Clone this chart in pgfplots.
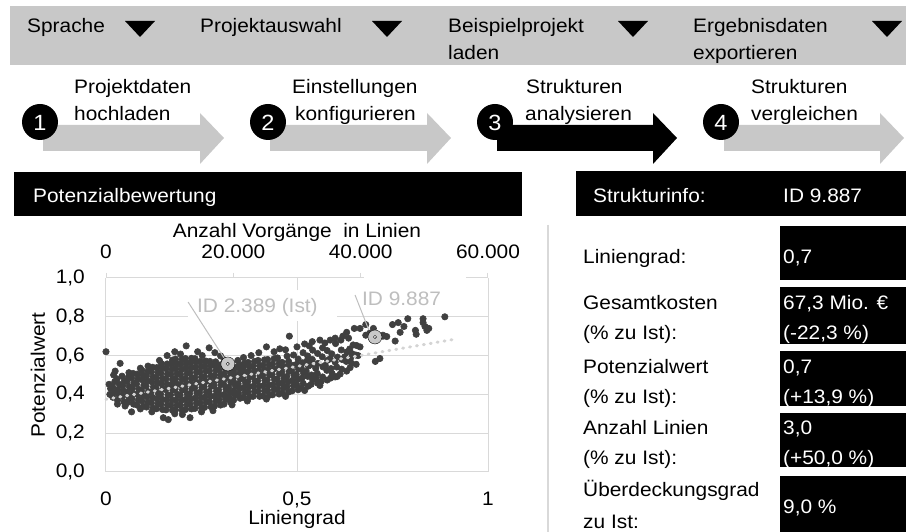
\documentclass[border=0pt]{standalone}
\usepackage{pgfplots}
\pgfplotsset{compat=1.18}
\usepackage{fontspec}
\setmainfont{Liberation Sans}[FakeStretch=1.07]
\definecolor{bargray}{RGB}{200,200,200}
\definecolor{gridgray}{RGB}{217,217,217}
\definecolor{labelgray}{RGB}{190,190,190}
\definecolor{dotgray}{RGB}{64,64,64}
\definecolor{hlgray}{RGB}{200,200,200}
\definecolor{trendgray}{RGB}{212,212,212}
\newcommand{\fs}{\fontsize{19.5}{23}\selectfont}
\begin{document}
\fs
\begin{tikzpicture}[font=\fs]
\useasboundingbox (0pt,0pt) rectangle (906pt,532pt);
\begin{scope}[x=1pt,y=1pt]
% top menu bar
\fill[bargray] (10,526) rectangle (906,467);
\node[anchor=base west,inner sep=0] at (27,499) {Sprache};
\fill (125,511) -- (155,511) -- (140,495) -- cycle;
\node[anchor=base west,inner sep=0] at (200,499) {Projektauswahl};
\fill (372,511) -- (402,511) -- (387,495) -- cycle;
\node[anchor=base west,inner sep=0] at (448,499) {Beispielprojekt};
\node[anchor=base west,inner sep=0] at (448,472) {laden};
\fill (618,511) -- (648,511) -- (633,495) -- cycle;
\node[anchor=base west,inner sep=0] at (693,499) {Ergebnisdaten};
\node[anchor=base west,inner sep=0] at (693,472) {exportieren};
\fill (872,511) -- (902,511) -- (887,495) -- cycle;
% step arrows
\fill[bargray] (43,407) -- (200,407) -- (200,419) -- (224,394) -- (200,368) -- (200,381) -- (43,381) -- cycle;
\fill[bargray] (270,407) -- (427,407) -- (427,419) -- (451,394) -- (427,368) -- (427,381) -- (270,381) -- cycle;
\fill[black] (497,407) -- (653,407) -- (653,419) -- (677,394) -- (653,368) -- (653,381) -- (497,381) -- cycle;
\fill[bargray] (724,407) -- (880,407) -- (880,419) -- (904,394) -- (880,368) -- (880,381) -- (724,381) -- cycle;
\foreach \cx/\n in {40/1,268/2,495/3,721/4}{
  \fill[black] (\cx,410) circle (18);
  \node[text=white,inner sep=0,font=\fontsize{22}{24}\selectfont] at (\cx,409) {\n};
}
\node[anchor=base west,inner sep=0] at (74,438) {Projektdaten};
\node[anchor=base west,inner sep=0] at (74,411) {hochladen};
\node[anchor=base west,inner sep=0] at (292,438) {Einstellungen};
\node[anchor=base west,inner sep=0] at (295,411) {konfigurieren};
\node[anchor=base west,inner sep=0] at (526,438) {Strukturen};
\node[anchor=base west,inner sep=0] at (525,411) {analysieren};
\node[anchor=base west,inner sep=0] at (751,438) {Strukturen};
\node[anchor=base west,inner sep=0] at (751,411) {vergleichen};
% panel headers
\fill[black] (14,360) rectangle (522,316);
\node[anchor=base west,inner sep=0,text=white] at (33,329) {Potenzialbewertung};
\fill[black] (576,361) rectangle (906,316);
\node[anchor=base west,inner sep=0,text=white] at (593,329) {Strukturinfo:};
\node[anchor=base west,inner sep=0,text=white] at (783,329) {ID 9.887};
% separator
\draw[gridgray,line width=2] (548,307) -- (548,0);
% info boxes
\fill[black] (780,306) rectangle (906,252);
\fill[black] (780,245) rectangle (906,188);
\fill[black] (780,181) rectangle (906,126);
\fill[black] (780,119) rectangle (906,65);
\fill[black] (780,56) rectangle (906,0);
\node[anchor=base west,inner sep=0] at (583,268) {Liniengrad:};
\node[anchor=base west,inner sep=0] at (583,222) {Gesamtkosten};
\node[anchor=base west,inner sep=0] at (583,192) {(\% zu Ist):};
\node[anchor=base west,inner sep=0] at (583,158) {Potenzialwert};
\node[anchor=base west,inner sep=0] at (583,128) {(\% zu Ist):};
\node[anchor=base west,inner sep=0] at (583,97) {Anzahl Linien};
\node[anchor=base west,inner sep=0] at (583,67) {(\% zu Ist):};
\node[anchor=base west,inner sep=0] at (583,35) {Überdeckungsgrad};
\node[anchor=base west,inner sep=0] at (583,3) {zu Ist:};
\begin{scope}
\clip (780,306) rectangle (906,252);
\node[anchor=base west,inner sep=0,text=white] at (783,268) {0,7};
\end{scope}
\begin{scope}
\clip (780,245) rectangle (906,188);
\node[anchor=base west,inner sep=0,text=white] at (783,222) {67,3 Mio. €};
\node[anchor=base west,inner sep=0,text=white] at (783,192) {(-22,3 \%)};
\end{scope}
\begin{scope}
\clip (780,181) rectangle (906,126);
\node[anchor=base west,inner sep=0,text=white] at (783,158) {0,7};
\node[anchor=base west,inner sep=0,text=white] at (783,128) {(+13,9 \%)};
\end{scope}
\begin{scope}
\clip (780,119) rectangle (906,65);
\node[anchor=base west,inner sep=0,text=white] at (783,97) {3,0};
\node[anchor=base west,inner sep=0,text=white] at (783,67) {(+50,0 \%)};
\end{scope}
\node[anchor=base west,inner sep=0,text=white] at (783,18) {9,0 \%};
\end{scope}

% secondary (top) axis
\begin{axis}[at={(106pt,60pt)},anchor=south west,scale only axis,
  width=382pt,height=194pt,xmin=0,xmax=60000,ymin=0,ymax=1,
  axis x line*=top, axis y line=none, scaled x ticks=false,
  xtick={0,20000,40000,60000},xticklabels={0,20.000,40.000,60.000},
  x axis line style={draw=gridgray,line width=1pt,-},
  xtick style={draw=gridgray,line width=1pt},
  tick align=outside, major tick length=5pt,
  /pgf/number format/assume math mode=true,
  tick label style={font=\fs}, label style={font=\fs},
  xticklabel style={anchor=south,inner sep=0pt,yshift=14pt},
  xlabel={Anzahl Vorgänge\ \ in Linien},
  xlabel style={at={(axis description cs:0.5,1.237)},anchor=center},
]
\addplot[draw=none] coordinates {(0,0) (60000,1)};
\end{axis}

% main axis
\begin{axis}[at={(106pt,60pt)},anchor=south west,scale only axis,
  width=382pt,height=194pt,xmin=0,xmax=1,ymin=0,ymax=1,
  xtick={0,0.5,1},xticklabels={0,{0,5},1},
  ytick={0,0.2,0.4,0.6,0.8,1},yticklabels={{0,0},{0,2},{0,4},{0,6},{0,8},{1,0}},
  grid=major, major grid style={draw=gridgray,line width=1pt},
  axis line style={draw=none}, major tick length=0pt,
  /pgf/number format/assume math mode=true,
  tick label style={font=\fs}, label style={font=\fs},
  xticklabel style={anchor=north,inner sep=0pt,yshift=-20pt},
  yticklabel style={anchor=east,inner sep=0pt,xshift=-21pt},
  xlabel={Liniengrad}, ylabel={Potenzialwert},
  xlabel style={at={(axis description cs:0.5,-0.245)},anchor=center},
  ylabel style={at={(axis description cs:-0.178,0.5)},anchor=center},
  clip=false,
]
\addplot[only marks,mark=*,mark size=3.2pt,mark options={draw=dotgray,line width=0.6pt,fill=dotgray}] coordinates {
(0.018,0.385)(0.022,0.410)(0.017,0.440)(0.023,0.466)
(0.030,0.370)(0.034,0.398)(0.031,0.425)(0.035,0.452)(0.029,0.480)
(0.047,0.362)(0.043,0.390)(0.046,0.418)(0.044,0.445)(0.048,0.470)(0.042,0.494)
(0.056,0.358)(0.060,0.385)(0.057,0.412)(0.061,0.440)(0.055,0.466)(0.059,0.490)
(0.072,0.350)(0.068,0.377)(0.071,0.405)(0.069,0.432)(0.073,0.460)(0.067,0.485)(0.071,0.508)
(0.081,0.345)(0.085,0.372)(0.082,0.400)(0.086,0.426)(0.080,0.454)(0.084,0.480)(0.082,0.505)
(0.098,0.340)(0.094,0.366)(0.097,0.394)(0.093,0.420)(0.099,0.448)(0.095,0.475)(0.097,0.500)(0.094,0.524)
(0.106,0.335)(0.110,0.360)(0.107,0.388)(0.111,0.414)(0.105,0.442)(0.109,0.470)(0.106,0.496)(0.110,0.520)
(0.123,0.330)(0.119,0.356)(0.122,0.384)(0.118,0.410)(0.124,0.438)(0.120,0.465)(0.123,0.490)(0.119,0.516)(0.122,0.540)
(0.132,0.326)(0.136,0.351)(0.133,0.378)(0.137,0.405)(0.131,0.432)(0.135,0.460)(0.132,0.486)(0.136,0.512)(0.133,0.538)
(0.148,0.322)(0.144,0.349)(0.147,0.375)(0.143,0.401)(0.149,0.429)(0.145,0.455)(0.148,0.482)(0.144,0.509)(0.147,0.535)(0.145,0.558)
(0.157,0.320)(0.161,0.345)(0.158,0.372)(0.162,0.398)(0.156,0.425)(0.160,0.452)(0.157,0.480)(0.161,0.505)(0.158,0.532)(0.160,0.557)
(0.174,0.318)(0.170,0.343)(0.173,0.370)(0.169,0.397)(0.175,0.423)(0.171,0.450)(0.174,0.477)(0.170,0.503)(0.173,0.530)(0.171,0.556)(0.174,0.577)
(0.182,0.320)(0.186,0.345)(0.183,0.372)(0.187,0.400)(0.181,0.427)(0.185,0.454)(0.182,0.480)(0.186,0.507)(0.183,0.534)(0.185,0.560)(0.182,0.582)
(0.199,0.318)(0.195,0.344)(0.198,0.370)(0.194,0.396)(0.200,0.422)(0.196,0.449)(0.199,0.476)(0.195,0.502)(0.198,0.528)(0.196,0.555)(0.199,0.580)
(0.208,0.322)(0.212,0.348)(0.209,0.375)(0.213,0.401)(0.207,0.428)(0.211,0.455)(0.208,0.481)(0.212,0.508)(0.209,0.535)(0.211,0.561)(0.208,0.585)
(0.224,0.325)(0.220,0.350)(0.223,0.377)(0.219,0.404)(0.225,0.430)(0.221,0.457)(0.224,0.483)(0.220,0.510)(0.223,0.537)(0.221,0.563)(0.224,0.586)
(0.233,0.328)(0.237,0.355)(0.234,0.381)(0.238,0.407)(0.232,0.434)(0.236,0.460)(0.233,0.487)(0.237,0.514)(0.234,0.540)(0.236,0.566)(0.233,0.584)
(0.250,0.331)(0.246,0.357)(0.249,0.383)(0.245,0.410)(0.251,0.436)(0.247,0.463)(0.250,0.490)(0.246,0.516)(0.249,0.543)(0.247,0.570)
(0.258,0.333)(0.262,0.360)(0.259,0.386)(0.263,0.412)(0.257,0.440)(0.261,0.466)(0.258,0.492)(0.262,0.520)(0.259,0.546)(0.261,0.572)
(0.275,0.336)(0.271,0.362)(0.274,0.390)(0.270,0.415)(0.276,0.442)(0.272,0.468)(0.275,0.495)(0.271,0.522)(0.274,0.548)(0.272,0.570)
(0.284,0.340)(0.288,0.366)(0.285,0.392)(0.289,0.418)(0.283,0.445)(0.287,0.472)(0.284,0.498)(0.288,0.525)(0.285,0.550)(0.287,0.568)
(0.300,0.345)(0.296,0.370)(0.299,0.396)(0.295,0.422)(0.301,0.450)(0.297,0.476)(0.300,0.502)(0.296,0.528)(0.299,0.552)
(0.309,0.350)(0.313,0.376)(0.310,0.400)(0.314,0.427)(0.308,0.453)(0.312,0.480)(0.309,0.506)(0.313,0.530)(0.310,0.548)
(0.326,0.360)(0.322,0.386)(0.325,0.410)(0.321,0.437)(0.327,0.462)(0.323,0.488)(0.326,0.512)(0.322,0.534)
(0.334,0.370)(0.338,0.395)(0.335,0.420)(0.339,0.445)(0.333,0.470)(0.337,0.496)(0.334,0.520)(0.338,0.540)
(0.351,0.380)(0.347,0.405)(0.350,0.430)(0.346,0.455)(0.352,0.480)(0.348,0.505)(0.351,0.530)(0.349,0.552)
(0.360,0.385)(0.364,0.410)(0.361,0.436)(0.365,0.462)(0.359,0.488)(0.363,0.514)(0.360,0.540)(0.362,0.560)
(0.376,0.388)(0.372,0.413)(0.375,0.440)(0.371,0.466)(0.377,0.490)(0.373,0.517)(0.376,0.543)(0.372,0.565)
(0.385,0.390)(0.389,0.415)(0.386,0.442)(0.390,0.468)(0.384,0.494)(0.388,0.520)(0.385,0.546)(0.389,0.570)
(0.402,0.390)(0.398,0.416)(0.401,0.443)(0.397,0.470)(0.403,0.496)(0.399,0.522)(0.402,0.548)(0.398,0.575)
(0.411,0.392)(0.415,0.418)(0.412,0.445)(0.416,0.472)(0.410,0.498)(0.414,0.525)(0.411,0.550)(0.415,0.578)
(0.427,0.395)(0.423,0.420)(0.426,0.447)(0.422,0.474)(0.428,0.500)(0.424,0.527)(0.427,0.553)(0.423,0.580)
(0.436,0.398)(0.440,0.424)(0.437,0.450)(0.441,0.477)(0.435,0.503)(0.439,0.530)(0.436,0.556)(0.440,0.584)
(0.453,0.402)(0.449,0.428)(0.452,0.455)(0.448,0.480)(0.454,0.507)(0.450,0.534)(0.453,0.560)(0.449,0.588)
(0.461,0.407)(0.465,0.433)(0.462,0.460)(0.466,0.486)(0.460,0.512)(0.464,0.538)(0.461,0.565)
(0.478,0.412)(0.474,0.440)(0.477,0.466)(0.473,0.492)(0.479,0.518)(0.475,0.545)(0.478,0.570)(0.474,0.597)
(0.487,0.418)(0.491,0.445)(0.488,0.472)(0.492,0.498)(0.486,0.524)(0.490,0.550)(0.491,0.603)
(0.503,0.424)(0.499,0.450)(0.502,0.477)(0.498,0.503)(0.504,0.530)(0.500,0.556)(0.503,0.582)
(0.512,0.433)(0.516,0.457)(0.513,0.484)(0.517,0.510)(0.511,0.537)(0.515,0.563)(0.516,0.615)
(0.529,0.442)(0.528,0.493)(0.524,0.520)(0.530,0.546)(0.526,0.572)(0.528,0.598)
(0.537,0.452)(0.541,0.476)(0.538,0.500)(0.536,0.553)(0.540,0.580)(0.541,0.628)
(0.554,0.458)(0.550,0.484)(0.553,0.508)(0.549,0.534)(0.555,0.560)(0.554,0.611)
(0.563,0.466)(0.567,0.490)(0.568,0.542)(0.566,0.594)(0.567,0.640)
(0.579,0.474)(0.578,0.524)(0.574,0.550)(0.580,0.576)(0.579,0.626)
(0.588,0.484)(0.592,0.507)(0.589,0.533)(0.587,0.584)(0.591,0.609)
(0.605,0.492)(0.604,0.541)(0.600,0.566)(0.606,0.592)(0.601,0.662)
(0.613,0.505)(0.617,0.530)(0.618,0.580)(0.616,0.629)
(0.630,0.520)(0.629,0.570)(0.625,0.594)(0.631,0.619)
(0.639,0.538)(0.643,0.560)(0.644,0.610)(0.638,0.634)
(0.655,0.555)(0.654,0.603)(0.656,0.652)
(0.000,0.620)(0.024,0.520)(0.037,0.560)(0.012,0.430)(0.010,0.400)(0.008,0.452)(0.020,0.500)
(0.030,0.350)(0.050,0.340)(0.067,0.310)(0.090,0.325)(0.120,0.310)(0.150,0.280)(0.163,0.270)
(0.180,0.300)(0.200,0.296)(0.220,0.280)(0.250,0.310)(0.280,0.316)(0.330,0.346)(0.370,0.366)
(0.420,0.376)(0.470,0.390)(0.520,0.420)(0.560,0.446)
(0.060,0.512)(0.090,0.535)(0.110,0.546)(0.140,0.575)(0.160,0.600)(0.180,0.620)(0.195,0.608)
(0.210,0.650)(0.240,0.620)(0.252,0.600)(0.270,0.640)(0.285,0.615)(0.300,0.598)(0.310,0.578)
(0.345,0.575)(0.360,0.590)(0.380,0.600)(0.400,0.615)(0.420,0.645)(0.440,0.620)(0.455,0.635)
(0.480,0.700)(0.470,0.630)(0.500,0.645)(0.520,0.660)(0.532,0.650)(0.540,0.672)(0.560,0.680)
(0.573,0.665)(0.587,0.680)(0.600,0.690)(0.620,0.700)(0.630,0.720)(0.635,0.690)(0.647,0.655)
(0.650,0.740)(0.665,0.740)(0.665,0.645)(0.680,0.760)(0.680,0.705)(0.690,0.715)(0.725,0.705)
(0.735,0.698)(0.757,0.675)(0.750,0.760)(0.765,0.770)(0.770,0.720)(0.780,0.750)(0.790,0.790)
(0.810,0.730)(0.812,0.710)(0.830,0.790)(0.830,0.770)(0.835,0.750)(0.840,0.730)(0.887,0.800)
(0.845,0.740)(0.705,0.570)(0.717,0.585)(0.600,0.490)(0.660,0.600)(0.640,0.585)(0.615,0.680)
(0.700,0.740)(0.725,0.700)
};
\end{axis}

% overlay axis: trend line, highlighted structures, labels
\begin{axis}[at={(106pt,60pt)},anchor=south west,scale only axis,
  width=382pt,height=194pt,xmin=0,xmax=1,ymin=0,ymax=1,
  hide axis, clip=false]
\addplot[trendgray,line width=3pt,line cap=round,dash pattern=on 1pt off 6pt] coordinates {(0,0.375) (0.915,0.685)};
\addplot[only marks,mark=*,mark size=7pt,mark options={draw=none,fill=hlgray}] coordinates {(0.319,0.557) (0.704,0.696)};
\addplot[only marks,mark=*,mark size=1.6pt,mark options={draw=none,fill=white}] coordinates {(0.319,0.557) (0.704,0.696)};
\fill[white] (axis cs:0.215,0.94) rectangle (axis cs:0.605,0.78);
\fill[white] (axis cs:0.676,1.03) rectangle (axis cs:0.942,0.825);
\draw[labelgray,line width=1pt] (axis cs:0.215,0.876) -- (axis cs:0.309,0.588);
\draw[labelgray,line width=1pt] (axis cs:0.652,0.912) -- (axis cs:0.688,0.732);
\node[anchor=base west,inner sep=0,text=labelgray] at (axis cs:0.238,0.82) {ID 2.389 (Ist)};
\node[anchor=base west,inner sep=0,text=labelgray] at (axis cs:0.670,0.856) {ID 9.887};
\end{axis}
\end{tikzpicture}
\end{document}
